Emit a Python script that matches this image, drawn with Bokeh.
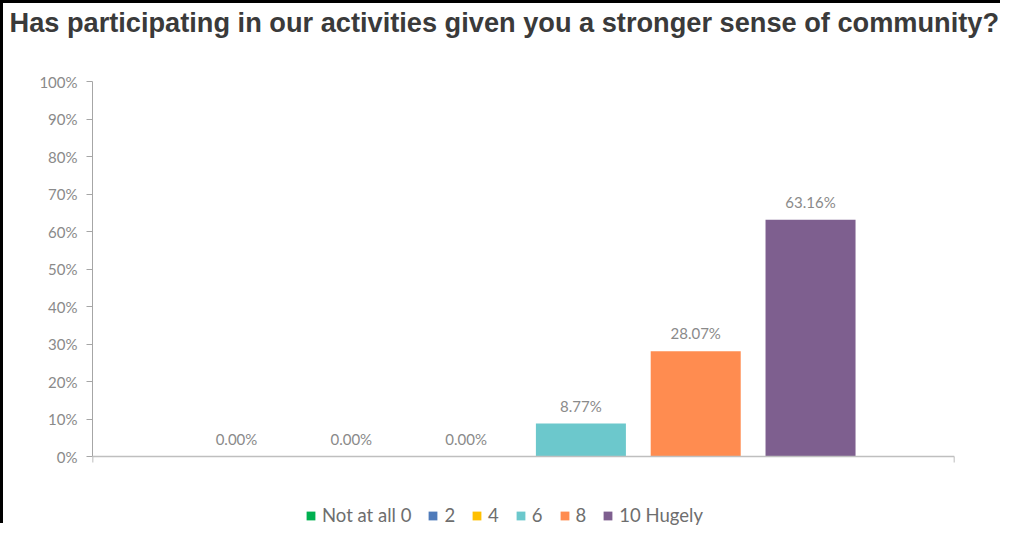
from bokeh.plotting import figure
from bokeh.models import (Range1d, FixedTicker, PrintfTickFormatter, Legend,
                          LegendItem, ColumnDataSource, Span)
from bokeh.core.properties import value
from bokeh.embed import file_html
from bokeh.resources import INLINE

title_text = "Has participating in our activities given you a stronger sense of community?"
categories = ["Not at all 0", "2", "4", "6", "8", "10 Hugely"]
percents = [0.0, 0.0, 0.0, 8.77, 28.07, 63.16]
colors = ["#00B050", "#4F7BBA", "#FFC000", "#6CC8CC", "#FF8C50", "#7E5F8F"]
y_ticks = [0, 10, 20, 30, 40, 50, 60, 70, 80, 90, 100]

positions = list(range(len(categories)))
labels = [f"{v:.2f}%" for v in percents]

# layout (canvas pixels)
W, H = 1000, 523
frame_top = 34          # top of plotting frame
y100_px = 78            # where 100% sits
y0_px = 453             # where 0% sits
ppu = (y0_px - y100_px) / 100.0
y_end = 100 + (y100_px - frame_top) / ppu
y_start = -(H - y0_px) / ppu
x_start, x_end = -1.254, len(categories) - 1 + 1.254

p = figure(width=W, height=H, output_backend="svg", toolbar_location=None,
           x_range=Range1d(x_start, x_end), y_range=Range1d(y_start, y_end),
           x_axis_location=None,
           min_border_left=89, min_border_right=49, min_border_top=frame_top, min_border_bottom=0)
p.outline_line_color = None
p.xgrid.visible = False
p.ygrid.visible = False
p.styles = {"border-top": "3px solid black", "border-left": "3px solid black"}

font = "Lato"
gray = "#8a8a8a"

# title
p.title.text = title_text
p.title.text_font = "Liberation Sans"
p.title.text_font_style = "bold"
p.title.text_font_size = "27.2px"
p.title.text_color = "#3a3a3a"
p.title.align = "left"
p.title.offset = -83
p.title.standoff = 0

# y axis (only over 0..100%)
p.yaxis.bounds = (0, 100)
p.yaxis.ticker = FixedTicker(ticks=y_ticks)
p.yaxis.formatter = PrintfTickFormatter(format="%d%%")
p.yaxis.axis_line_color = "#a6a6a6"
p.yaxis.major_tick_line_color = "#a6a6a6"
p.yaxis.major_tick_out = 6
p.yaxis.major_tick_in = 0
p.yaxis.minor_tick_line_color = None
p.yaxis.major_label_text_font = font
p.yaxis.major_label_text_font_size = "15px"
p.yaxis.major_label_text_color = gray
p.yaxis.major_label_standoff = 9

# category baseline with boundary ticks
p.add_layout(Span(location=0, dimension="width", line_color="#bfbfbf", line_width=1.5))
tick_len = 6 / ppu
p.segment(x0=[x_start, x_end], y0=[0, 0], x1=[x_start, x_end], y1=[-tick_len, -tick_len],
          line_color="#a6a6a6", line_width=1.5)

src = ColumnDataSource(dict(x=positions, top=percents, label=labels))
items = []
for i in range(len(categories)):
    r = p.vbar(x=positions[i], top=percents[i], width=0.784, fill_color=colors[i], line_alpha=0)
    items.append(LegendItem(label=categories[i], renderers=[r]))

p.text(x="x", y="top", text="label", source=src, text_align="center", text_baseline="bottom",
       y_offset=-9, text_font=value(font), text_font_size="15px", text_color=gray)

legend = Legend(items=items, orientation="horizontal", location=(213, 0),
                padding=0, margin=0, spacing=16, glyph_width=11, glyph_height=11,
                label_standoff=6, label_width=0, label_text_font=font, label_text_font_size="18.5px",
                label_text_color="#6e6e6e", border_line_alpha=0, background_fill_alpha=0)
p.add_layout(legend, "center")

open("out.html", "w").write(file_html(p, INLINE))
